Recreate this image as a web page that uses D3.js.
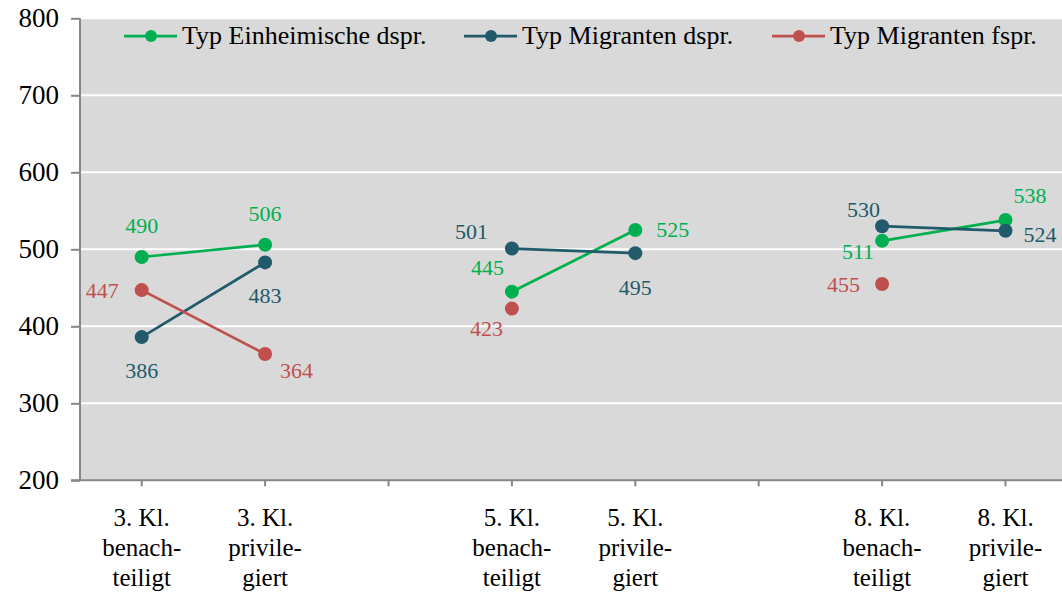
<!DOCTYPE html>
<html>
<head>
<meta charset="utf-8">
<script src="https://cdn.jsdelivr.net/npm/d3@7"></script>
<style>
  body { margin: 0; background: #fff; }
  text { font-family: "Liberation Serif", "Times New Roman", serif; }
</style>
</head>
<body>
<div id="chart"></div>
<script>
var width = 1062;
var height = 596;

// categories (empty slots separate the grades)
var categories = ["3. Kl.|benach-|teiligt", "3. Kl.|privile-|giert", "gap1",
                  "5. Kl.|benach-|teiligt", "5. Kl.|privile-|giert", "gap2",
                  "8. Kl.|benach-|teiligt", "8. Kl.|privile-|giert"];
var seriesNames = ["Typ Einheimische dspr.", "Typ Migranten dspr.", "Typ Migranten fspr."];
var einheimische = [490, 506, null, 445, 525, null, 511, 538];
var migrantenD   = [386, 483, null, 501, 495, null, 530, 524];
var migrantenF   = [447, 364, null, 423, null, null, 455, null];
var yTicks = [200, 300, 400, 500, 600, 700, 800];
var colors = ["#00b050", "#215a6b", "#c0504d"];

// label placement per point: [dx, dy, anchor]
var labelPos = [
  [[0,-24,"middle"], [0,-24,"middle"], null, [-8,-17,"end"], [21,7,"start"], null, [-8,18,"end"], [8,-17,"start"]],
  [[0,41,"middle"], [0,41,"middle"], null, [-24,-10,"end"], [0,42,"middle"], null, [-2,-9,"end"], [18,11,"start"]],
  [[-23,8,"end"], [15,24,"start"], null, [-9,27,"end"], null, null, [-22,8,"end"], null]
];

var series = [einheimische, migrantenD, migrantenF];

var svg = d3.select("#chart").append("svg").attr("width", width).attr("height", height);

var plotLeft = 80, plotTop = 18.3, plotBottom = 480.3;
var x = d3.scaleBand().domain(categories).range([plotLeft, plotLeft + 8 * 123.4]);
var y = d3.scaleLinear().domain([200, 800]).range([plotBottom, plotTop]);

svg.append("rect")
  .attr("x", plotLeft).attr("y", plotTop)
  .attr("width", width - plotLeft).attr("height", plotBottom - plotTop)
  .attr("fill", "#d9d9d9");

// gridlines
svg.append("g").selectAll("line")
  .data(yTicks.filter(function(d){ return d > 200; }))
  .enter().append("line")
    .attr("x1", plotLeft).attr("x2", width)
    .attr("y1", function(d){ return y(d); }).attr("y2", function(d){ return y(d); })
    .attr("stroke", "#ffffff").attr("stroke-width", 2);

// y axis
var yAxis = svg.append("g").attr("transform", "translate(" + plotLeft + ",0)")
  .call(d3.axisLeft(y).tickValues(yTicks).tickSize(9).tickPadding(12));
yAxis.selectAll("text").attr("font-size", "27px").attr("fill", "#000")
  .attr("font-family", "\"Liberation Serif\", serif");
yAxis.selectAll("line, path").attr("stroke", "#868686").attr("stroke-width", 2);
yAxis.select("path").attr("d", "M0," + plotTop + "V" + plotBottom);

// x axis
var xAxis = svg.append("g").attr("transform", "translate(0," + plotBottom + ")")
  .call(d3.axisBottom(x).tickSize(6).tickFormat(""));
xAxis.selectAll("line").attr("stroke", "#868686").attr("stroke-width", 2);
xAxis.select("path").attr("stroke", "#868686").attr("stroke-width", 2)
  .attr("d", "M71,0H" + width);

// category labels
categories.forEach(function(c){
  if (c.indexOf("gap") === 0) return;
  var lines = c.split("|");
  var t = svg.append("text")
    .attr("x", x(c) + x.bandwidth() / 2)
    .attr("y", 526)
    .attr("text-anchor", "middle")
    .attr("font-size", "25px")
    .attr("fill", "#000");
  lines.forEach(function(l, i){
    t.append("tspan").attr("x", x(c) + x.bandwidth() / 2).attr("dy", i === 0 ? 0 : 30).text(l);
  });
});

var cx = function(i){ return x(categories[i]) + x.bandwidth() / 2; };

series.forEach(function(vals, s){
  var line = d3.line()
    .defined(function(d){ return d !== null; })
    .x(function(d, i){ return cx(i); })
    .y(function(d){ return y(d); });
  svg.append("path")
    .datum(vals)
    .attr("d", line)
    .attr("fill", "none")
    .attr("stroke", colors[s])
    .attr("stroke-width", 2.75);

  vals.forEach(function(v, i){
    if (v === null) return;
    svg.append("circle")
      .attr("cx", cx(i)).attr("cy", y(v)).attr("r", 7)
      .attr("fill", colors[s]);
    var p = labelPos[s][i];
    svg.append("text")
      .attr("x", cx(i) + p[0]).attr("y", y(v) + p[1])
      .attr("text-anchor", p[2])
      .attr("font-size", "22px")
      .attr("fill", colors[s])
      .text(v);
  });
});

// legend
var legendX = [124, 464, 772];
seriesNames.forEach(function(name, s){
  var g = svg.append("g").attr("transform", "translate(" + legendX[s] + ",36)");
  g.append("line").attr("x1", 0).attr("x2", 53).attr("y1", 0).attr("y2", 0)
    .attr("stroke", colors[s]).attr("stroke-width", 2.75);
  g.append("circle").attr("cx", 27).attr("cy", 0).attr("r", 6).attr("fill", colors[s]);
  g.append("text").attr("x", 58).attr("y", 8)
    .attr("font-size", "26px").attr("fill", "#000").text(name);
});
</script>
</body>
</html>
